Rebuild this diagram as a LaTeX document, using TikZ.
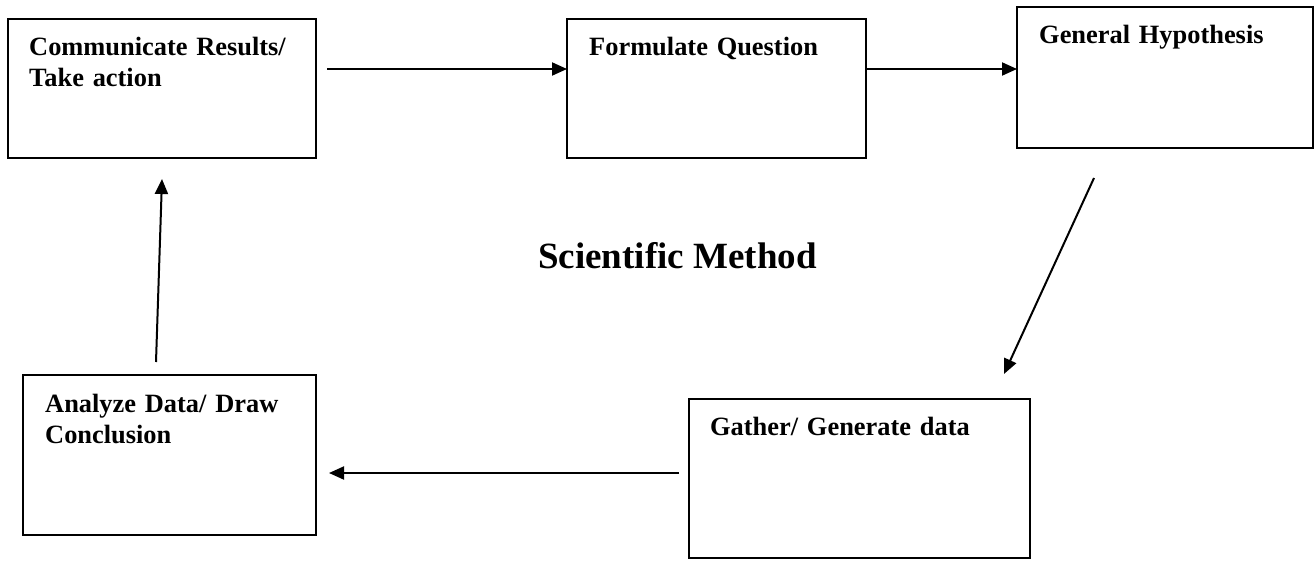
\documentclass[tikz,border=0pt]{standalone}
\usepackage{fontspec}
\setmainfont{Liberation Serif}
\usetikzlibrary{arrows.meta}
\begin{document}
\begin{tikzpicture}[x=1pt,y=-1pt,
  stepbox/.style={draw=black,line width=2pt,rectangle,inner sep=0pt,outer sep=0pt},
  lbl/.style={anchor=base west,inner sep=0pt,align=left,text width=300pt,
    font=\bfseries\fontsize{26.4}{31.7}\selectfont},
  ttl/.style={anchor=base,inner sep=0pt,font=\bfseries\fontsize{37}{44}\selectfont},
  arr/.style={line width=2pt,-{Triangle[length=15pt,width=13pt]}}]
\useasboundingbox (0,0) rectangle (1315,560);
\node[stepbox,minimum width=308pt,minimum height=139pt] (b1) at (162,88.5) {};
\node[stepbox,minimum width=299pt,minimum height=139pt] (b2) at (716.5,88.5) {};
\node[stepbox,minimum width=296pt,minimum height=141pt] (b3) at (1165,77.5) {};
\node[stepbox,minimum width=293pt,minimum height=160pt] (b4) at (169.5,455) {};
\node[stepbox,minimum width=341pt,minimum height=159pt] (b5) at (859.5,478.5) {};
\node[lbl] (t1) at (29,55) {Communicate Results/\\Take action};
\node[lbl] (t2) at (589,55) {Formulate Question};
\node[lbl] (t3) at (1039,43) {General Hypothesis};
\node[lbl] (t4) at (45,412) {Analyze Data/ Draw\\Conclusion};
\node[lbl] (t5) at (710,435) {Gather/ Generate data};
\node[ttl] (title) at (677.5,268) {Scientific Method};
\coordinate (a1s) at (327,69);
\coordinate (a3s) at (1094,178);
\coordinate (a3e) at (1004,374);
\coordinate (a4s) at (679,473);
\coordinate (a4e) at (329,473);
\coordinate (a5s) at (156,362);
\coordinate (a5e) at (162,179);
\draw[arr] (a1s) -- (a1s -| b2.west);
\draw[arr] (a1s -| b2.east) -- (a1s -| b3.west);
\draw[arr] (a3s) -- (a3e);
\draw[arr] (a4s) -- (a4e);
\draw[arr] (a5s) -- (a5e);
\end{tikzpicture}
\end{document}
